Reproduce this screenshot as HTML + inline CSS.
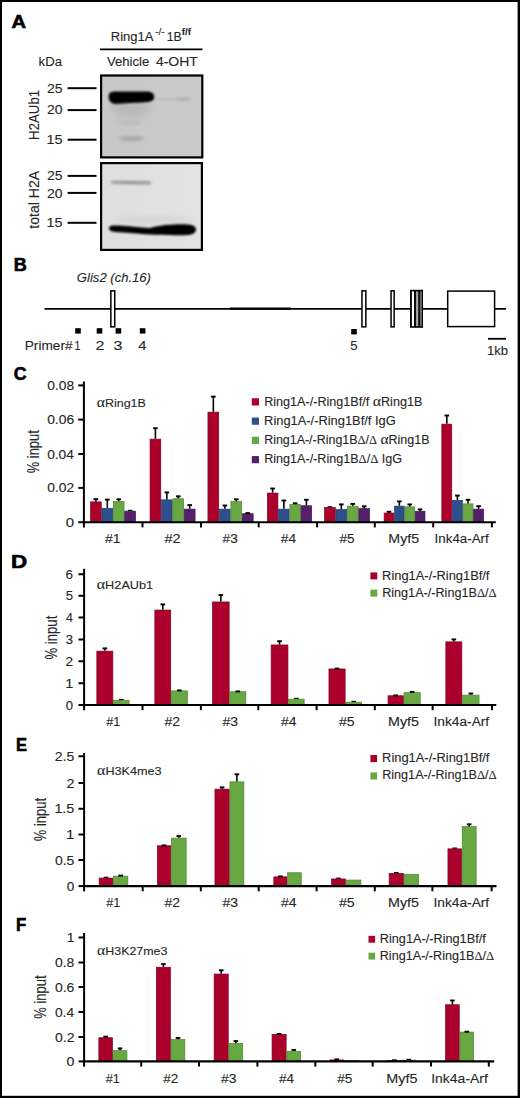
<!DOCTYPE html>
<html><head><meta charset="utf-8"><style>
html,body{margin:0;padding:0;background:#fff;}
svg{display:block;}
text{font-family:"Liberation Sans", sans-serif;}
</style></head><body>
<svg width="520" height="1098" viewBox="0 0 520 1098">
<rect x="0.00" y="0.00" width="520.00" height="1098.00" fill="#000" />
<rect x="2.00" y="2.00" width="515.60" height="1093.80" fill="#fff" />
<text x="11.52" y="28" font-size="17.5" fill="#000" stroke="#000" stroke-width="0.6" textLength="14.51" lengthAdjust="spacingAndGlyphs"><tspan font-weight="bold">A</tspan></text>
<text x="13.81" y="271" font-size="17.5" fill="#000" stroke="#000" stroke-width="0.6" textLength="13.00" lengthAdjust="spacingAndGlyphs"><tspan font-weight="bold">B</tspan></text>
<text x="13.67" y="380.2" font-size="17.5" fill="#000" stroke="#000" stroke-width="0.6" textLength="12.81" lengthAdjust="spacingAndGlyphs"><tspan font-weight="bold">C</tspan></text>
<text x="11.02" y="568" font-size="17.5" fill="#000" stroke="#000" stroke-width="0.6" textLength="16.15" lengthAdjust="spacingAndGlyphs"><tspan font-weight="bold">D</tspan></text>
<text x="15.91" y="751.25" font-size="17.5" fill="#000" stroke="#000" stroke-width="0.6" textLength="10.98" lengthAdjust="spacingAndGlyphs"><tspan font-weight="bold">E</tspan></text>
<text x="15.90" y="931.25" font-size="17.5" fill="#000" stroke="#000" stroke-width="0.6" textLength="10.20" lengthAdjust="spacingAndGlyphs"><tspan font-weight="bold">F</tspan></text>
<text x="110.84" y="40.6" font-size="12" fill="#262626" stroke="#262626" stroke-width="0.1" textLength="42.59" lengthAdjust="spacingAndGlyphs"><tspan>Ring1A</tspan></text>
<text x="155.15" y="35.4" font-size="9.5" fill="#262626" stroke="#262626" stroke-width="0.1" textLength="9.59" lengthAdjust="spacingAndGlyphs"><tspan>-/-</tspan></text>
<text x="166.77" y="40.6" font-size="12" fill="#262626" stroke="#262626" stroke-width="0.1" textLength="14.97" lengthAdjust="spacingAndGlyphs"><tspan>1B</tspan></text>
<text x="181.84" y="35.4" font-size="8.5" fill="#262626" stroke="#262626" stroke-width="0.1" textLength="9.04" lengthAdjust="spacingAndGlyphs"><tspan font-weight="bold">f/f</tspan></text>
<line x1="100.00" y1="49.30" x2="202.50" y2="49.30" stroke="#000" stroke-width="1.7"/>
<text x="106.95" y="66" font-size="12.5" fill="#262626" stroke="#262626" stroke-width="0.1" textLength="42.39" lengthAdjust="spacingAndGlyphs"><tspan>Vehicle</tspan></text>
<text x="155.94" y="66" font-size="12.5" fill="#262626" stroke="#262626" stroke-width="0.1" textLength="41.88" lengthAdjust="spacingAndGlyphs"><tspan>4-OHT</tspan></text>
<text x="38.62" y="66" font-size="12.5" fill="#262626" stroke="#262626" stroke-width="0.1" textLength="23.37" lengthAdjust="spacingAndGlyphs"><tspan>kDa</tspan></text>
<text x="47.00" y="92.8" font-size="12.3" fill="#262626" stroke="#262626" stroke-width="0.1" textLength="15.58" lengthAdjust="spacingAndGlyphs"><tspan>25</tspan></text>
<line x1="67.60" y1="88.20" x2="96.50" y2="88.20" stroke="#000" stroke-width="2"/>
<text x="47.00" y="114" font-size="12.3" fill="#262626" stroke="#262626" stroke-width="0.1" textLength="15.53" lengthAdjust="spacingAndGlyphs"><tspan>20</tspan></text>
<line x1="67.60" y1="110.10" x2="96.50" y2="110.10" stroke="#000" stroke-width="2"/>
<text x="46.61" y="143.5" font-size="12.3" fill="#262626" stroke="#262626" stroke-width="0.1" textLength="15.99" lengthAdjust="spacingAndGlyphs"><tspan>15</tspan></text>
<line x1="67.60" y1="139.70" x2="96.50" y2="139.70" stroke="#000" stroke-width="2"/>
<text x="47.00" y="179.9" font-size="12.3" fill="#262626" stroke="#262626" stroke-width="0.1" textLength="15.58" lengthAdjust="spacingAndGlyphs"><tspan>25</tspan></text>
<line x1="67.60" y1="175.90" x2="96.50" y2="175.90" stroke="#000" stroke-width="2"/>
<text x="47.00" y="197.7" font-size="12.3" fill="#262626" stroke="#262626" stroke-width="0.1" textLength="15.53" lengthAdjust="spacingAndGlyphs"><tspan>20</tspan></text>
<line x1="67.60" y1="192.90" x2="96.50" y2="192.90" stroke="#000" stroke-width="2"/>
<text x="46.61" y="227" font-size="12.3" fill="#262626" stroke="#262626" stroke-width="0.1" textLength="15.99" lengthAdjust="spacingAndGlyphs"><tspan>15</tspan></text>
<line x1="67.60" y1="222.80" x2="96.50" y2="222.80" stroke="#000" stroke-width="2"/>
<text transform="translate(38.70,0) rotate(-90)" x="-139.89" y="0" font-size="14" fill="#262626" stroke="#262626" stroke-width="0.1" textLength="50.02" lengthAdjust="spacingAndGlyphs"><tspan>H2AUb1</tspan></text>
<text transform="translate(38.50,0) rotate(-90)" x="-228.71" y="0" font-size="14" fill="#262626" stroke="#262626" stroke-width="0.1" textLength="57.94" lengthAdjust="spacingAndGlyphs"><tspan>total H2A</tspan></text>
<defs>
<filter id="b0" x="-50%" y="-50%" width="200%" height="200%"><feGaussianBlur stdDeviation="0.9"/></filter>
<filter id="b3" x="-50%" y="-50%" width="200%" height="200%"><feGaussianBlur stdDeviation="3.2"/></filter>
<filter id="b1" x="-50%" y="-50%" width="200%" height="200%"><feGaussianBlur stdDeviation="1.6"/></filter>
<filter id="b2" x="-50%" y="-50%" width="200%" height="200%"><feGaussianBlur stdDeviation="2.5"/></filter>
<linearGradient id="g1" x1="0" y1="0" x2="1" y2="0"><stop offset="0" stop-color="#c8c8c8"/><stop offset="1" stop-color="#cacaca"/></linearGradient>
<linearGradient id="g2" x1="0" y1="0" x2="1" y2="0"><stop offset="0" stop-color="#dfdfdf"/><stop offset="1" stop-color="#e3e3e3"/></linearGradient>
</defs>
<rect x="100.00" y="74.40" width="103.40" height="84.10" fill="#000" />
<rect x="102.20" y="76.60" width="99.00" height="79.70" fill="url(#g1)" />
<g filter="url(#b3)"><ellipse cx="131" cy="108" rx="20" ry="6" fill="#b8b8b8"/><ellipse cx="130" cy="118" rx="15" ry="5" fill="#c0c0c0"/></g>
<g filter="url(#b1)">
<ellipse cx="131" cy="123" rx="11" ry="1.3" fill="#b8b8b8"/>
<ellipse cx="131.5" cy="138.6" rx="12.5" ry="2.6" fill="#a8a8a8"/>
<path d="M155,98.6 L176,98.8 C185,98 191,98.5 192,99.3 C191,100.5 185,100.8 176,100.2 L155,99.4 Z" fill="#b0b0b0"/>
<ellipse cx="184" cy="99.4" rx="7" ry="1.2" fill="#a8a8a8"/>
</g>
<g filter="url(#b0)">
<path d="M108.6,96.5 C108.6,92.8 111,91.6 116,91.6 L147,91.6 C152,91.6 154.2,94 154.2,97 C154.2,100.3 151.5,101.8 146,102.3 C135,102.9 125,103.4 116,103.9 C111,104 108.6,101 108.6,96.5 Z" fill="#000"/>
</g>
<rect x="100.00" y="162.00" width="103.00" height="89.00" fill="#000" />
<rect x="102.20" y="164.20" width="98.60" height="84.60" fill="url(#g2)" />
<g filter="url(#b2)"><ellipse cx="152" cy="220" rx="40" ry="4" fill="#d6d6d6"/></g>
<g filter="url(#b1)">
<path d="M112,181 C125,180.8 140,181 150,181.5 C151.5,182 151.5,184 150,184.3 C140,184.5 125,184 112,183.5 C110.5,183 110.5,181.5 112,181 Z" fill="#8a8a8a"/>
</g>
<g filter="url(#b0)">
<path d="M109,228 C109,225.5 112,225.3 118,225.5 C130,226 140,227.3 150,228.0 C160,225 175,224 188,224.4 C194,224.8 196,227 196,229.5 C196,232 194,234.6 188,235 C175,235.5 160,235 150,234.6 C140,233.8 125,232.2 115,231.9 C111,231.7 109,230.5 109,228 Z" fill="#000"/>
</g>
<text x="76.86" y="282.2" font-size="13.5" fill="#262626" stroke="#262626" stroke-width="0.1" textLength="74.12" lengthAdjust="spacingAndGlyphs"><tspan font-style="italic">Glis2 (ch.16)</tspan></text>
<line x1="44.50" y1="308.80" x2="506.10" y2="308.80" stroke="#000" stroke-width="1.8"/>
<line x1="230.00" y1="308.65" x2="291.00" y2="308.65" stroke="#000" stroke-width="2.3"/>
<rect x="110.85" y="290.85" width="3.90" height="36.00" fill="#fff" stroke="#000" stroke-width="1.5"/>
<rect x="361.95" y="290.85" width="3.90" height="36.00" fill="#fff" stroke="#000" stroke-width="1.5"/>
<rect x="391.05" y="290.85" width="3.10" height="36.00" fill="#fff" stroke="#000" stroke-width="1.5"/>
<rect x="410.05" y="289.80" width="12.95" height="38.00" fill="#000" />
<rect x="411.90" y="291.40" width="2.10" height="34.80" fill="#fff" />
<rect x="415.90" y="291.40" width="2.40" height="34.80" fill="#a0a0a0" />
<rect x="419.90" y="291.40" width="2.00" height="34.80" fill="#6a6a6a" />
<rect x="447.70" y="291.10" width="46.90" height="35.50" fill="#fff" stroke="#000" stroke-width="1.5"/>
<rect x="75.20" y="328.20" width="5.60" height="5.40" fill="#000" />
<rect x="96.70" y="328.20" width="5.60" height="5.40" fill="#000" />
<rect x="115.60" y="328.20" width="5.60" height="5.40" fill="#000" />
<rect x="139.80" y="328.20" width="5.60" height="5.40" fill="#000" />
<rect x="351.20" y="329.00" width="5.60" height="5.40" fill="#000" />
<text x="24.78" y="349.8" font-size="12.5" fill="#262626" stroke="#262626" stroke-width="0.1" textLength="47.78" lengthAdjust="spacingAndGlyphs"><tspan>Primer#</tspan></text>
<text x="74.39" y="349.8" font-size="12.5" fill="#262626" stroke="#262626" stroke-width="0.1" textLength="5.92" lengthAdjust="spacingAndGlyphs"><tspan>1</tspan></text>
<text x="95.40" y="349.8" font-size="12.5" fill="#262626" stroke="#262626" stroke-width="0.1" textLength="8.90" lengthAdjust="spacingAndGlyphs"><tspan>2</tspan></text>
<text x="113.59" y="349.8" font-size="12.5" fill="#262626" stroke="#262626" stroke-width="0.1" textLength="8.90" lengthAdjust="spacingAndGlyphs"><tspan>3</tspan></text>
<text x="138.17" y="349.8" font-size="12.5" fill="#262626" stroke="#262626" stroke-width="0.1" textLength="8.26" lengthAdjust="spacingAndGlyphs"><tspan>4</tspan></text>
<text x="350.28" y="349.8" font-size="12.5" fill="#262626" stroke="#262626" stroke-width="0.1" textLength="7.26" lengthAdjust="spacingAndGlyphs"><tspan>5</tspan></text>
<line x1="488.00" y1="338.80" x2="506.10" y2="338.80" stroke="#000" stroke-width="1.8"/>
<text x="487.01" y="354.7" font-size="12.5" fill="#262626" stroke="#262626" stroke-width="0.1" textLength="21.03" lengthAdjust="spacingAndGlyphs"><tspan>1kb</tspan></text>
<rect x="90.55" y="501.85" width="10.70" height="20.35" fill="#ab002c" stroke="#80001f" stroke-width="0.7"/>
<line x1="95.90" y1="498.80" x2="95.90" y2="501.50" stroke="#000" stroke-width="1.6"/>
<line x1="93.60" y1="499.20" x2="98.20" y2="499.20" stroke="#000" stroke-width="1.9"/>
<rect x="101.95" y="508.25" width="10.70" height="13.95" fill="#2f4f8c" stroke="#22396a" stroke-width="0.7"/>
<line x1="107.30" y1="499.20" x2="107.30" y2="507.90" stroke="#000" stroke-width="1.6"/>
<line x1="105.00" y1="499.60" x2="109.60" y2="499.60" stroke="#000" stroke-width="1.9"/>
<rect x="113.35" y="501.55" width="10.70" height="20.65" fill="#68a843" stroke="#4f8532" stroke-width="0.7"/>
<line x1="118.70" y1="498.90" x2="118.70" y2="501.20" stroke="#000" stroke-width="1.6"/>
<line x1="116.40" y1="499.30" x2="121.00" y2="499.30" stroke="#000" stroke-width="1.9"/>
<rect x="124.75" y="511.15" width="10.70" height="11.05" fill="#561f6b" stroke="#3e1350" stroke-width="0.7"/>
<line x1="127.80" y1="510.40" x2="132.40" y2="510.40" stroke="#000" stroke-width="1.2"/>
<rect x="150.05" y="439.15" width="10.73" height="83.05" fill="#ab002c" stroke="#80001f" stroke-width="0.7"/>
<line x1="155.41" y1="427.80" x2="155.41" y2="438.80" stroke="#000" stroke-width="1.6"/>
<line x1="153.11" y1="428.20" x2="157.71" y2="428.20" stroke="#000" stroke-width="1.9"/>
<rect x="161.47" y="499.85" width="10.73" height="22.35" fill="#2f4f8c" stroke="#22396a" stroke-width="0.7"/>
<line x1="166.84" y1="492.00" x2="166.84" y2="499.50" stroke="#000" stroke-width="1.6"/>
<line x1="164.54" y1="492.40" x2="169.14" y2="492.40" stroke="#000" stroke-width="1.9"/>
<rect x="172.90" y="498.75" width="10.72" height="23.45" fill="#68a843" stroke="#4f8532" stroke-width="0.7"/>
<line x1="178.26" y1="495.90" x2="178.26" y2="498.40" stroke="#000" stroke-width="1.6"/>
<line x1="175.96" y1="496.30" x2="180.56" y2="496.30" stroke="#000" stroke-width="1.9"/>
<rect x="184.32" y="509.15" width="10.73" height="13.05" fill="#561f6b" stroke="#3e1350" stroke-width="0.7"/>
<line x1="189.69" y1="504.70" x2="189.69" y2="508.80" stroke="#000" stroke-width="1.6"/>
<line x1="187.39" y1="505.10" x2="191.99" y2="505.10" stroke="#000" stroke-width="1.9"/>
<rect x="207.95" y="412.15" width="10.77" height="110.05" fill="#ab002c" stroke="#80001f" stroke-width="0.7"/>
<line x1="213.34" y1="396.20" x2="213.34" y2="411.80" stroke="#000" stroke-width="1.6"/>
<line x1="211.04" y1="396.60" x2="215.64" y2="396.60" stroke="#000" stroke-width="1.9"/>
<rect x="219.42" y="509.15" width="10.78" height="13.05" fill="#2f4f8c" stroke="#22396a" stroke-width="0.7"/>
<line x1="224.81" y1="505.10" x2="224.81" y2="508.80" stroke="#000" stroke-width="1.6"/>
<line x1="222.51" y1="505.50" x2="227.11" y2="505.50" stroke="#000" stroke-width="1.9"/>
<rect x="230.90" y="501.55" width="10.77" height="20.65" fill="#68a843" stroke="#4f8532" stroke-width="0.7"/>
<line x1="236.29" y1="498.90" x2="236.29" y2="501.20" stroke="#000" stroke-width="1.6"/>
<line x1="233.99" y1="499.30" x2="238.59" y2="499.30" stroke="#000" stroke-width="1.9"/>
<rect x="242.38" y="513.75" width="10.77" height="8.45" fill="#561f6b" stroke="#3e1350" stroke-width="0.7"/>
<line x1="247.76" y1="512.70" x2="247.76" y2="513.40" stroke="#000" stroke-width="1.6"/>
<line x1="245.46" y1="513.10" x2="250.06" y2="513.10" stroke="#000" stroke-width="1.9"/>
<rect x="267.35" y="493.05" width="10.55" height="29.15" fill="#ab002c" stroke="#80001f" stroke-width="0.7"/>
<line x1="272.62" y1="488.10" x2="272.62" y2="492.70" stroke="#000" stroke-width="1.6"/>
<line x1="270.32" y1="488.50" x2="274.93" y2="488.50" stroke="#000" stroke-width="1.9"/>
<rect x="278.60" y="509.15" width="10.55" height="13.05" fill="#2f4f8c" stroke="#22396a" stroke-width="0.7"/>
<line x1="283.88" y1="500.10" x2="283.88" y2="508.80" stroke="#000" stroke-width="1.6"/>
<line x1="281.57" y1="500.50" x2="286.18" y2="500.50" stroke="#000" stroke-width="1.9"/>
<rect x="289.85" y="504.55" width="10.55" height="17.65" fill="#68a843" stroke="#4f8532" stroke-width="0.7"/>
<line x1="295.12" y1="502.90" x2="295.12" y2="504.20" stroke="#000" stroke-width="1.6"/>
<line x1="292.82" y1="503.30" x2="297.43" y2="503.30" stroke="#000" stroke-width="1.9"/>
<rect x="301.10" y="505.75" width="10.55" height="16.45" fill="#561f6b" stroke="#3e1350" stroke-width="0.7"/>
<line x1="306.38" y1="499.40" x2="306.38" y2="505.40" stroke="#000" stroke-width="1.6"/>
<line x1="304.07" y1="499.80" x2="308.68" y2="499.80" stroke="#000" stroke-width="1.9"/>
<rect x="324.55" y="507.55" width="10.73" height="14.65" fill="#ab002c" stroke="#80001f" stroke-width="0.7"/>
<line x1="327.61" y1="506.80" x2="332.21" y2="506.80" stroke="#000" stroke-width="1.2"/>
<rect x="335.98" y="509.65" width="10.72" height="12.55" fill="#2f4f8c" stroke="#22396a" stroke-width="0.7"/>
<line x1="341.34" y1="504.00" x2="341.34" y2="509.30" stroke="#000" stroke-width="1.6"/>
<line x1="339.04" y1="504.40" x2="343.64" y2="504.40" stroke="#000" stroke-width="1.9"/>
<rect x="347.40" y="506.15" width="10.73" height="16.05" fill="#68a843" stroke="#4f8532" stroke-width="0.7"/>
<line x1="352.76" y1="503.50" x2="352.76" y2="505.80" stroke="#000" stroke-width="1.6"/>
<line x1="350.46" y1="503.90" x2="355.06" y2="503.90" stroke="#000" stroke-width="1.9"/>
<rect x="358.82" y="508.55" width="10.73" height="13.65" fill="#561f6b" stroke="#3e1350" stroke-width="0.7"/>
<line x1="364.19" y1="505.90" x2="364.19" y2="508.20" stroke="#000" stroke-width="1.6"/>
<line x1="361.89" y1="506.30" x2="366.49" y2="506.30" stroke="#000" stroke-width="1.9"/>
<rect x="384.15" y="513.05" width="9.68" height="9.15" fill="#ab002c" stroke="#80001f" stroke-width="0.7"/>
<line x1="388.99" y1="511.40" x2="388.99" y2="512.70" stroke="#000" stroke-width="1.6"/>
<line x1="386.69" y1="511.80" x2="391.29" y2="511.80" stroke="#000" stroke-width="1.9"/>
<rect x="394.53" y="506.15" width="9.68" height="16.05" fill="#2f4f8c" stroke="#22396a" stroke-width="0.7"/>
<line x1="399.36" y1="501.00" x2="399.36" y2="505.80" stroke="#000" stroke-width="1.6"/>
<line x1="397.06" y1="501.40" x2="401.66" y2="501.40" stroke="#000" stroke-width="1.9"/>
<rect x="404.90" y="506.85" width="9.68" height="15.35" fill="#68a843" stroke="#4f8532" stroke-width="0.7"/>
<line x1="409.74" y1="504.00" x2="409.74" y2="506.50" stroke="#000" stroke-width="1.6"/>
<line x1="407.44" y1="504.40" x2="412.04" y2="504.40" stroke="#000" stroke-width="1.9"/>
<rect x="415.28" y="511.25" width="9.68" height="10.95" fill="#561f6b" stroke="#3e1350" stroke-width="0.7"/>
<line x1="420.11" y1="509.00" x2="420.11" y2="510.90" stroke="#000" stroke-width="1.6"/>
<line x1="417.81" y1="509.40" x2="422.41" y2="509.40" stroke="#000" stroke-width="1.9"/>
<rect x="441.85" y="424.15" width="9.90" height="98.05" fill="#ab002c" stroke="#80001f" stroke-width="0.7"/>
<line x1="446.80" y1="415.10" x2="446.80" y2="423.80" stroke="#000" stroke-width="1.6"/>
<line x1="444.50" y1="415.50" x2="449.10" y2="415.50" stroke="#000" stroke-width="1.9"/>
<rect x="452.45" y="500.35" width="9.90" height="21.85" fill="#2f4f8c" stroke="#22396a" stroke-width="0.7"/>
<line x1="457.40" y1="495.20" x2="457.40" y2="500.00" stroke="#000" stroke-width="1.6"/>
<line x1="455.10" y1="495.60" x2="459.70" y2="495.60" stroke="#000" stroke-width="1.9"/>
<rect x="463.05" y="503.85" width="9.90" height="18.35" fill="#68a843" stroke="#4f8532" stroke-width="0.7"/>
<line x1="468.00" y1="499.40" x2="468.00" y2="503.50" stroke="#000" stroke-width="1.6"/>
<line x1="465.70" y1="499.80" x2="470.30" y2="499.80" stroke="#000" stroke-width="1.9"/>
<rect x="473.65" y="509.15" width="9.90" height="13.05" fill="#561f6b" stroke="#3e1350" stroke-width="0.7"/>
<line x1="478.60" y1="505.80" x2="478.60" y2="508.80" stroke="#000" stroke-width="1.6"/>
<line x1="476.30" y1="506.20" x2="480.90" y2="506.20" stroke="#000" stroke-width="1.9"/>
<line x1="83.90" y1="381.50" x2="83.90" y2="527.50" stroke="#000" stroke-width="2.0"/>
<line x1="82.90" y1="522.20" x2="495.80" y2="522.20" stroke="#000" stroke-width="2.1"/>
<line x1="78.30" y1="385.40" x2="83.90" y2="385.40" stroke="#000" stroke-width="2"/>
<line x1="78.30" y1="419.60" x2="83.90" y2="419.60" stroke="#000" stroke-width="2"/>
<line x1="78.30" y1="454.00" x2="83.90" y2="454.00" stroke="#000" stroke-width="2"/>
<line x1="78.30" y1="487.90" x2="83.90" y2="487.90" stroke="#000" stroke-width="2"/>
<line x1="78.30" y1="522.20" x2="83.90" y2="522.20" stroke="#000" stroke-width="2"/>
<line x1="142.50" y1="522.20" x2="142.50" y2="527.40" stroke="#000" stroke-width="2"/>
<line x1="201.00" y1="522.20" x2="201.00" y2="527.40" stroke="#000" stroke-width="2"/>
<line x1="258.70" y1="522.20" x2="258.70" y2="527.40" stroke="#000" stroke-width="2"/>
<line x1="317.10" y1="522.20" x2="317.10" y2="527.40" stroke="#000" stroke-width="2"/>
<line x1="374.80" y1="522.20" x2="374.80" y2="527.40" stroke="#000" stroke-width="2"/>
<line x1="433.20" y1="522.20" x2="433.20" y2="527.40" stroke="#000" stroke-width="2"/>
<line x1="491.90" y1="522.20" x2="491.90" y2="527.40" stroke="#000" stroke-width="2"/>
<text x="47.16" y="389.9" font-size="12.5" fill="#262626" stroke="#262626" stroke-width="0.1" textLength="26.94" lengthAdjust="spacingAndGlyphs"><tspan>0.08</tspan></text>
<text x="47.16" y="424.1" font-size="12.5" fill="#262626" stroke="#262626" stroke-width="0.1" textLength="26.94" lengthAdjust="spacingAndGlyphs"><tspan>0.06</tspan></text>
<text x="47.16" y="458.5" font-size="12.5" fill="#262626" stroke="#262626" stroke-width="0.1" textLength="26.74" lengthAdjust="spacingAndGlyphs"><tspan>0.04</tspan></text>
<text x="47.16" y="492.4" font-size="12.5" fill="#262626" stroke="#262626" stroke-width="0.1" textLength="27.04" lengthAdjust="spacingAndGlyphs"><tspan>0.02</tspan></text>
<text x="65.71" y="526.7" font-size="12.5" fill="#262626" stroke="#262626" stroke-width="0.1" textLength="8.36" lengthAdjust="spacingAndGlyphs"><tspan>0</tspan></text>
<text x="105.04" y="542.7" font-size="12.3" fill="#262626" stroke="#262626" stroke-width="0.1" textLength="15.64" lengthAdjust="spacingAndGlyphs"><tspan>#1</tspan></text>
<text x="164.44" y="542.7" font-size="12.3" fill="#262626" stroke="#262626" stroke-width="0.1" textLength="16.09" lengthAdjust="spacingAndGlyphs"><tspan>#2</tspan></text>
<text x="222.55" y="542.7" font-size="12.3" fill="#262626" stroke="#262626" stroke-width="0.1" textLength="15.25" lengthAdjust="spacingAndGlyphs"><tspan>#3</tspan></text>
<text x="280.74" y="542.7" font-size="12.3" fill="#262626" stroke="#262626" stroke-width="0.1" textLength="15.36" lengthAdjust="spacingAndGlyphs"><tspan>#4</tspan></text>
<text x="339.45" y="542.7" font-size="12.3" fill="#262626" stroke="#262626" stroke-width="0.1" textLength="15.12" lengthAdjust="spacingAndGlyphs"><tspan>#5</tspan></text>
<text x="388.34" y="542.7" font-size="12.3" fill="#262626" stroke="#262626" stroke-width="0.1" textLength="30.75" lengthAdjust="spacingAndGlyphs"><tspan>Myf5</tspan></text>
<text x="434.57" y="542.7" font-size="12.3" fill="#262626" stroke="#262626" stroke-width="0.1" textLength="54.20" lengthAdjust="spacingAndGlyphs"><tspan>Ink4a-Arf</tspan></text>
<text x="96.81" y="407.2" font-size="11" fill="#262626" stroke="#262626" stroke-width="0.1" textLength="49.03" lengthAdjust="spacingAndGlyphs"><tspan font-family="Liberation Serif" font-size="1.250em">α</tspan><tspan>Ring1B</tspan></text>
<text transform="translate(38.75,0) rotate(-90)" x="-473.35" y="0" font-size="16" fill="#262626" stroke="#262626" stroke-width="0.1" textLength="43.24" lengthAdjust="spacingAndGlyphs"><tspan>% input</tspan></text>
<rect x="251.80" y="398.30" width="7.20" height="7.20" fill="#ab002c" />
<text x="264.17" y="405.8" font-size="12.3" fill="#262626" stroke="#262626" stroke-width="0.1" textLength="158.18" lengthAdjust="spacingAndGlyphs"><tspan>Ring1A-/-Ring1Bf/f </tspan><tspan font-family="Liberation Serif" font-size="1.250em">α</tspan><tspan>Ring1B</tspan></text>
<rect x="251.80" y="417.55" width="7.20" height="7.20" fill="#2f4f8c" />
<text x="264.14" y="424.77" font-size="12.3" fill="#262626" stroke="#262626" stroke-width="0.1" textLength="131.60" lengthAdjust="spacingAndGlyphs"><tspan>Ring1A-/-Ring1Bf/f IgG</tspan></text>
<rect x="251.80" y="436.80" width="7.20" height="7.20" fill="#68a843" />
<text x="264.18" y="443.74" font-size="12.3" fill="#262626" stroke="#262626" stroke-width="0.1" textLength="165.27" lengthAdjust="spacingAndGlyphs"><tspan>Ring1A-/-Ring1B</tspan><tspan font-family="Liberation Serif">Δ</tspan><tspan>/</tspan><tspan font-family="Liberation Serif">Δ</tspan><tspan> </tspan><tspan font-family="Liberation Serif" font-size="1.250em">α</tspan><tspan>Ring1B</tspan></text>
<rect x="251.80" y="456.05" width="7.20" height="7.20" fill="#561f6b" />
<text x="264.17" y="462.71000000000004" font-size="12.3" fill="#262626" stroke="#262626" stroke-width="0.1" textLength="137.97" lengthAdjust="spacingAndGlyphs"><tspan>Ring1A-/-Ring1B</tspan><tspan font-family="Liberation Serif">Δ</tspan><tspan>/</tspan><tspan font-family="Liberation Serif">Δ</tspan><tspan> IgG</tspan></text>
<rect x="96.85" y="651.15" width="16.00" height="53.85" fill="#ab002c" stroke="#80001f" stroke-width="0.7"/>
<line x1="104.85" y1="648.00" x2="104.85" y2="650.80" stroke="#000" stroke-width="1.6"/>
<line x1="102.55" y1="648.40" x2="107.15" y2="648.40" stroke="#000" stroke-width="1.9"/>
<rect x="113.55" y="700.25" width="15.60" height="4.75" fill="#68a843" stroke="#4f8532" stroke-width="0.7"/>
<line x1="119.05" y1="699.50" x2="123.65" y2="699.50" stroke="#000" stroke-width="1.2"/>
<rect x="154.85" y="610.05" width="15.90" height="94.95" fill="#ab002c" stroke="#80001f" stroke-width="0.7"/>
<line x1="162.80" y1="604.00" x2="162.80" y2="609.70" stroke="#000" stroke-width="1.6"/>
<line x1="160.50" y1="604.40" x2="165.10" y2="604.40" stroke="#000" stroke-width="1.9"/>
<rect x="171.45" y="690.85" width="15.90" height="14.15" fill="#68a843" stroke="#4f8532" stroke-width="0.7"/>
<line x1="179.40" y1="690.00" x2="179.40" y2="690.50" stroke="#000" stroke-width="1.6"/>
<line x1="177.10" y1="690.40" x2="181.70" y2="690.40" stroke="#000" stroke-width="1.9"/>
<rect x="212.55" y="601.95" width="16.60" height="103.05" fill="#ab002c" stroke="#80001f" stroke-width="0.7"/>
<line x1="220.85" y1="594.70" x2="220.85" y2="601.60" stroke="#000" stroke-width="1.6"/>
<line x1="218.55" y1="595.10" x2="223.15" y2="595.10" stroke="#000" stroke-width="1.9"/>
<rect x="229.85" y="691.75" width="16.00" height="13.25" fill="#68a843" stroke="#4f8532" stroke-width="0.7"/>
<line x1="237.85" y1="691.00" x2="237.85" y2="691.40" stroke="#000" stroke-width="1.6"/>
<line x1="235.55" y1="691.40" x2="240.15" y2="691.40" stroke="#000" stroke-width="1.9"/>
<rect x="271.15" y="644.95" width="16.80" height="60.05" fill="#ab002c" stroke="#80001f" stroke-width="0.7"/>
<line x1="279.55" y1="640.80" x2="279.55" y2="644.60" stroke="#000" stroke-width="1.6"/>
<line x1="277.25" y1="641.20" x2="281.85" y2="641.20" stroke="#000" stroke-width="1.9"/>
<rect x="288.65" y="699.15" width="15.50" height="5.85" fill="#68a843" stroke="#4f8532" stroke-width="0.7"/>
<line x1="294.10" y1="698.40" x2="298.70" y2="698.40" stroke="#000" stroke-width="1.2"/>
<rect x="328.95" y="668.95" width="16.20" height="36.05" fill="#ab002c" stroke="#80001f" stroke-width="0.7"/>
<line x1="337.05" y1="668.20" x2="337.05" y2="668.60" stroke="#000" stroke-width="1.6"/>
<line x1="334.75" y1="668.60" x2="339.35" y2="668.60" stroke="#000" stroke-width="1.9"/>
<rect x="345.85" y="702.15" width="15.80" height="2.85" fill="#68a843" stroke="#4f8532" stroke-width="0.7"/>
<line x1="351.45" y1="701.40" x2="356.05" y2="701.40" stroke="#000" stroke-width="1.2"/>
<rect x="388.05" y="695.75" width="15.30" height="9.25" fill="#ab002c" stroke="#80001f" stroke-width="0.7"/>
<line x1="395.70" y1="695.00" x2="395.70" y2="695.40" stroke="#000" stroke-width="1.6"/>
<line x1="393.40" y1="695.40" x2="398.00" y2="695.40" stroke="#000" stroke-width="1.9"/>
<rect x="404.05" y="692.65" width="16.20" height="12.35" fill="#68a843" stroke="#4f8532" stroke-width="0.7"/>
<line x1="412.15" y1="691.50" x2="412.15" y2="692.30" stroke="#000" stroke-width="1.6"/>
<line x1="409.85" y1="691.90" x2="414.45" y2="691.90" stroke="#000" stroke-width="1.9"/>
<rect x="445.85" y="641.85" width="16.00" height="63.15" fill="#ab002c" stroke="#80001f" stroke-width="0.7"/>
<line x1="453.85" y1="639.00" x2="453.85" y2="641.50" stroke="#000" stroke-width="1.6"/>
<line x1="451.55" y1="639.40" x2="456.15" y2="639.40" stroke="#000" stroke-width="1.9"/>
<rect x="462.55" y="695.15" width="16.50" height="9.85" fill="#68a843" stroke="#4f8532" stroke-width="0.7"/>
<line x1="470.80" y1="693.10" x2="470.80" y2="694.80" stroke="#000" stroke-width="1.6"/>
<line x1="468.50" y1="693.50" x2="473.10" y2="693.50" stroke="#000" stroke-width="1.9"/>
<line x1="84.10" y1="568.75" x2="84.10" y2="710.30" stroke="#000" stroke-width="2.0"/>
<line x1="83.10" y1="705.00" x2="496.30" y2="705.00" stroke="#000" stroke-width="2.1"/>
<line x1="78.50" y1="574.25" x2="84.10" y2="574.25" stroke="#000" stroke-width="2"/>
<line x1="78.50" y1="595.75" x2="84.10" y2="595.75" stroke="#000" stroke-width="2"/>
<line x1="78.50" y1="617.50" x2="84.10" y2="617.50" stroke="#000" stroke-width="2"/>
<line x1="78.50" y1="639.50" x2="84.10" y2="639.50" stroke="#000" stroke-width="2"/>
<line x1="78.50" y1="661.25" x2="84.10" y2="661.25" stroke="#000" stroke-width="2"/>
<line x1="78.50" y1="683.25" x2="84.10" y2="683.25" stroke="#000" stroke-width="2"/>
<line x1="78.50" y1="705.00" x2="84.10" y2="705.00" stroke="#000" stroke-width="2"/>
<line x1="142.50" y1="705.00" x2="142.50" y2="710.20" stroke="#000" stroke-width="2"/>
<line x1="200.90" y1="705.00" x2="200.90" y2="710.20" stroke="#000" stroke-width="2"/>
<line x1="258.30" y1="705.00" x2="258.30" y2="710.20" stroke="#000" stroke-width="2"/>
<line x1="316.60" y1="705.00" x2="316.60" y2="710.20" stroke="#000" stroke-width="2"/>
<line x1="374.80" y1="705.00" x2="374.80" y2="710.20" stroke="#000" stroke-width="2"/>
<line x1="432.60" y1="705.00" x2="432.60" y2="710.20" stroke="#000" stroke-width="2"/>
<line x1="492.00" y1="705.00" x2="492.00" y2="710.20" stroke="#000" stroke-width="2"/>
<text x="65.58" y="578.75" font-size="12.5" fill="#262626" stroke="#262626" stroke-width="0.1" textLength="7.51" lengthAdjust="spacingAndGlyphs"><tspan>6</tspan></text>
<text x="65.72" y="600.25" font-size="12.5" fill="#262626" stroke="#262626" stroke-width="0.1" textLength="7.32" lengthAdjust="spacingAndGlyphs"><tspan>5</tspan></text>
<text x="65.98" y="622.0" font-size="12.5" fill="#262626" stroke="#262626" stroke-width="0.1" textLength="6.88" lengthAdjust="spacingAndGlyphs"><tspan>4</tspan></text>
<text x="65.75" y="644.0" font-size="12.5" fill="#262626" stroke="#262626" stroke-width="0.1" textLength="7.32" lengthAdjust="spacingAndGlyphs"><tspan>3</tspan></text>
<text x="65.56" y="665.75" font-size="12.5" fill="#262626" stroke="#262626" stroke-width="0.1" textLength="7.62" lengthAdjust="spacingAndGlyphs"><tspan>2</tspan></text>
<text x="65.15" y="687.75" font-size="12.5" fill="#262626" stroke="#262626" stroke-width="0.1" textLength="8.05" lengthAdjust="spacingAndGlyphs"><tspan>1</tspan></text>
<text x="65.74" y="709.5" font-size="12.5" fill="#262626" stroke="#262626" stroke-width="0.1" textLength="7.26" lengthAdjust="spacingAndGlyphs"><tspan>0</tspan></text>
<text x="106.15" y="726.0" font-size="12.3" fill="#262626" stroke="#262626" stroke-width="0.1" textLength="14.06" lengthAdjust="spacingAndGlyphs"><tspan>#1</tspan></text>
<text x="164.44" y="726.0" font-size="12.3" fill="#262626" stroke="#262626" stroke-width="0.1" textLength="15.56" lengthAdjust="spacingAndGlyphs"><tspan>#2</tspan></text>
<text x="222.44" y="726.0" font-size="12.3" fill="#262626" stroke="#262626" stroke-width="0.1" textLength="15.67" lengthAdjust="spacingAndGlyphs"><tspan>#3</tspan></text>
<text x="280.94" y="726.0" font-size="12.3" fill="#262626" stroke="#262626" stroke-width="0.1" textLength="15.46" lengthAdjust="spacingAndGlyphs"><tspan>#4</tspan></text>
<text x="338.94" y="726.0" font-size="12.3" fill="#262626" stroke="#262626" stroke-width="0.1" textLength="15.64" lengthAdjust="spacingAndGlyphs"><tspan>#5</tspan></text>
<text x="388.02" y="726.0" font-size="12.3" fill="#262626" stroke="#262626" stroke-width="0.1" textLength="31.06" lengthAdjust="spacingAndGlyphs"><tspan>Myf5</tspan></text>
<text x="433.54" y="726.0" font-size="12.3" fill="#262626" stroke="#262626" stroke-width="0.1" textLength="55.64" lengthAdjust="spacingAndGlyphs"><tspan>Ink4a-Arf</tspan></text>
<text x="96.80" y="588.9" font-size="11.3" fill="#262626" stroke="#262626" stroke-width="0.1" textLength="56.40" lengthAdjust="spacingAndGlyphs"><tspan font-family="Liberation Serif" font-size="1.250em">α</tspan><tspan>H2AUb1</tspan></text>
<text transform="translate(57.00,0) rotate(-90)" x="-659.46" y="0" font-size="16" fill="#262626" stroke="#262626" stroke-width="0.1" textLength="43.74" lengthAdjust="spacingAndGlyphs"><tspan>% input</tspan></text>
<rect x="370.40" y="572.40" width="6.90" height="7.00" fill="#ab002c" />
<text x="382.14" y="579.6" font-size="12.3" fill="#262626" stroke="#262626" stroke-width="0.1" textLength="107.33" lengthAdjust="spacingAndGlyphs"><tspan>Ring1A-/-Ring1Bf/f</tspan></text>
<rect x="370.40" y="589.60" width="6.90" height="7.00" fill="#68a843" />
<text x="382.16" y="596.5" font-size="12.3" fill="#262626" stroke="#262626" stroke-width="0.1" textLength="114.51" lengthAdjust="spacingAndGlyphs"><tspan>Ring1A-/-Ring1B</tspan><tspan font-family="Liberation Serif">Δ</tspan><tspan>/</tspan><tspan font-family="Liberation Serif">Δ</tspan></text>
<rect x="99.15" y="878.05" width="13.70" height="8.05" fill="#ab002c" stroke="#80001f" stroke-width="0.7"/>
<line x1="103.70" y1="877.30" x2="108.30" y2="877.30" stroke="#000" stroke-width="1.2"/>
<rect x="113.55" y="876.15" width="14.30" height="9.95" fill="#68a843" stroke="#4f8532" stroke-width="0.7"/>
<line x1="120.70" y1="875.20" x2="120.70" y2="875.80" stroke="#000" stroke-width="1.6"/>
<line x1="118.40" y1="875.60" x2="123.00" y2="875.60" stroke="#000" stroke-width="1.9"/>
<rect x="157.35" y="845.75" width="13.40" height="40.35" fill="#ab002c" stroke="#80001f" stroke-width="0.7"/>
<line x1="164.05" y1="845.00" x2="164.05" y2="845.40" stroke="#000" stroke-width="1.6"/>
<line x1="161.75" y1="845.40" x2="166.35" y2="845.40" stroke="#000" stroke-width="1.9"/>
<rect x="171.45" y="838.15" width="14.70" height="47.95" fill="#68a843" stroke="#4f8532" stroke-width="0.7"/>
<line x1="178.80" y1="835.70" x2="178.80" y2="837.80" stroke="#000" stroke-width="1.6"/>
<line x1="176.50" y1="836.10" x2="181.10" y2="836.10" stroke="#000" stroke-width="1.9"/>
<rect x="214.95" y="789.15" width="14.30" height="96.95" fill="#ab002c" stroke="#80001f" stroke-width="0.7"/>
<line x1="222.10" y1="787.00" x2="222.10" y2="788.80" stroke="#000" stroke-width="1.6"/>
<line x1="219.80" y1="787.40" x2="224.40" y2="787.40" stroke="#000" stroke-width="1.9"/>
<rect x="229.95" y="781.85" width="13.90" height="104.25" fill="#68a843" stroke="#4f8532" stroke-width="0.7"/>
<line x1="236.90" y1="773.90" x2="236.90" y2="781.50" stroke="#000" stroke-width="1.6"/>
<line x1="234.60" y1="774.30" x2="239.20" y2="774.30" stroke="#000" stroke-width="1.9"/>
<rect x="273.85" y="876.85" width="13.10" height="9.25" fill="#ab002c" stroke="#80001f" stroke-width="0.7"/>
<line x1="280.40" y1="876.00" x2="280.40" y2="876.50" stroke="#000" stroke-width="1.6"/>
<line x1="278.10" y1="876.40" x2="282.70" y2="876.40" stroke="#000" stroke-width="1.9"/>
<rect x="287.65" y="872.75" width="13.60" height="13.35" fill="#68a843" stroke="#4f8532" stroke-width="0.7"/>
<rect x="331.55" y="878.95" width="13.90" height="7.15" fill="#ab002c" stroke="#80001f" stroke-width="0.7"/>
<line x1="336.20" y1="878.20" x2="340.80" y2="878.20" stroke="#000" stroke-width="1.2"/>
<rect x="346.15" y="880.05" width="14.70" height="6.05" fill="#68a843" stroke="#4f8532" stroke-width="0.7"/>
<rect x="389.15" y="873.35" width="14.30" height="12.75" fill="#ab002c" stroke="#80001f" stroke-width="0.7"/>
<line x1="394.00" y1="872.60" x2="398.60" y2="872.60" stroke="#000" stroke-width="1.2"/>
<rect x="404.15" y="874.25" width="14.30" height="11.85" fill="#68a843" stroke="#4f8532" stroke-width="0.7"/>
<rect x="447.95" y="848.85" width="13.60" height="37.25" fill="#ab002c" stroke="#80001f" stroke-width="0.7"/>
<line x1="452.45" y1="848.10" x2="457.05" y2="848.10" stroke="#000" stroke-width="1.2"/>
<rect x="462.25" y="826.55" width="13.90" height="59.55" fill="#68a843" stroke="#4f8532" stroke-width="0.7"/>
<line x1="469.20" y1="823.90" x2="469.20" y2="826.20" stroke="#000" stroke-width="1.6"/>
<line x1="466.90" y1="824.30" x2="471.50" y2="824.30" stroke="#000" stroke-width="1.9"/>
<line x1="84.10" y1="753.00" x2="84.10" y2="891.40" stroke="#000" stroke-width="2.0"/>
<line x1="83.10" y1="886.10" x2="496.50" y2="886.10" stroke="#000" stroke-width="2.1"/>
<line x1="78.50" y1="756.25" x2="84.10" y2="756.25" stroke="#000" stroke-width="2"/>
<line x1="78.50" y1="783.00" x2="84.10" y2="783.00" stroke="#000" stroke-width="2"/>
<line x1="78.50" y1="808.75" x2="84.10" y2="808.75" stroke="#000" stroke-width="2"/>
<line x1="78.50" y1="834.50" x2="84.10" y2="834.50" stroke="#000" stroke-width="2"/>
<line x1="78.50" y1="860.00" x2="84.10" y2="860.00" stroke="#000" stroke-width="2"/>
<line x1="78.50" y1="886.10" x2="84.10" y2="886.10" stroke="#000" stroke-width="2"/>
<line x1="142.70" y1="886.10" x2="142.70" y2="891.30" stroke="#000" stroke-width="2"/>
<line x1="200.80" y1="886.10" x2="200.80" y2="891.30" stroke="#000" stroke-width="2"/>
<line x1="258.70" y1="886.10" x2="258.70" y2="891.30" stroke="#000" stroke-width="2"/>
<line x1="316.60" y1="886.10" x2="316.60" y2="891.30" stroke="#000" stroke-width="2"/>
<line x1="374.80" y1="886.10" x2="374.80" y2="891.30" stroke="#000" stroke-width="2"/>
<line x1="432.40" y1="886.10" x2="432.40" y2="891.30" stroke="#000" stroke-width="2"/>
<line x1="491.60" y1="886.10" x2="491.60" y2="891.30" stroke="#000" stroke-width="2"/>
<text x="54.80" y="760.75" font-size="12.5" fill="#262626" stroke="#262626" stroke-width="0.1" textLength="19.53" lengthAdjust="spacingAndGlyphs"><tspan>2.5</tspan></text>
<text x="66.54" y="787.5" font-size="12.5" fill="#262626" stroke="#262626" stroke-width="0.1" textLength="7.93" lengthAdjust="spacingAndGlyphs"><tspan>2</tspan></text>
<text x="54.41" y="813.25" font-size="12.5" fill="#262626" stroke="#262626" stroke-width="0.1" textLength="19.93" lengthAdjust="spacingAndGlyphs"><tspan>1.5</tspan></text>
<text x="66.11" y="839.0" font-size="12.5" fill="#262626" stroke="#262626" stroke-width="0.1" textLength="8.37" lengthAdjust="spacingAndGlyphs"><tspan>1</tspan></text>
<text x="54.96" y="864.5" font-size="12.5" fill="#262626" stroke="#262626" stroke-width="0.1" textLength="19.37" lengthAdjust="spacingAndGlyphs"><tspan>0.5</tspan></text>
<text x="66.72" y="890.6" font-size="12.5" fill="#262626" stroke="#262626" stroke-width="0.1" textLength="7.55" lengthAdjust="spacingAndGlyphs"><tspan>0</tspan></text>
<text x="106.15" y="907.2" font-size="12.3" fill="#262626" stroke="#262626" stroke-width="0.1" textLength="14.06" lengthAdjust="spacingAndGlyphs"><tspan>#1</tspan></text>
<text x="164.44" y="907.2" font-size="12.3" fill="#262626" stroke="#262626" stroke-width="0.1" textLength="15.56" lengthAdjust="spacingAndGlyphs"><tspan>#2</tspan></text>
<text x="222.44" y="907.2" font-size="12.3" fill="#262626" stroke="#262626" stroke-width="0.1" textLength="15.67" lengthAdjust="spacingAndGlyphs"><tspan>#3</tspan></text>
<text x="280.94" y="907.2" font-size="12.3" fill="#262626" stroke="#262626" stroke-width="0.1" textLength="15.46" lengthAdjust="spacingAndGlyphs"><tspan>#4</tspan></text>
<text x="338.94" y="907.2" font-size="12.3" fill="#262626" stroke="#262626" stroke-width="0.1" textLength="15.64" lengthAdjust="spacingAndGlyphs"><tspan>#5</tspan></text>
<text x="388.02" y="907.2" font-size="12.3" fill="#262626" stroke="#262626" stroke-width="0.1" textLength="31.06" lengthAdjust="spacingAndGlyphs"><tspan>Myf5</tspan></text>
<text x="433.54" y="907.2" font-size="12.3" fill="#262626" stroke="#262626" stroke-width="0.1" textLength="55.64" lengthAdjust="spacingAndGlyphs"><tspan>Ink4a-Arf</tspan></text>
<text x="97.11" y="774.6" font-size="11.3" fill="#262626" stroke="#262626" stroke-width="0.1" textLength="64.53" lengthAdjust="spacingAndGlyphs"><tspan font-family="Liberation Serif" font-size="1.250em">α</tspan><tspan>H3K4me3</tspan></text>
<text transform="translate(46.10,0) rotate(-90)" x="-841.25" y="0" font-size="16" fill="#262626" stroke="#262626" stroke-width="0.1" textLength="43.34" lengthAdjust="spacingAndGlyphs"><tspan>% input</tspan></text>
<rect x="370.40" y="755.00" width="6.70" height="7.10" fill="#ab002c" />
<text x="382.14" y="761.9" font-size="12.3" fill="#262626" stroke="#262626" stroke-width="0.1" textLength="107.33" lengthAdjust="spacingAndGlyphs"><tspan>Ring1A-/-Ring1Bf/f</tspan></text>
<rect x="370.40" y="772.40" width="6.70" height="7.10" fill="#68a843" />
<text x="382.16" y="779.1999999999999" font-size="12.3" fill="#262626" stroke="#262626" stroke-width="0.1" textLength="114.51" lengthAdjust="spacingAndGlyphs"><tspan>Ring1A-/-Ring1B</tspan><tspan font-family="Liberation Serif">Δ</tspan><tspan>/</tspan><tspan font-family="Liberation Serif">Δ</tspan></text>
<rect x="98.85" y="1037.75" width="13.60" height="23.65" fill="#ab002c" stroke="#80001f" stroke-width="0.7"/>
<line x1="105.65" y1="1036.25" x2="105.65" y2="1037.40" stroke="#000" stroke-width="1.6"/>
<line x1="103.35" y1="1036.65" x2="107.95" y2="1036.65" stroke="#000" stroke-width="1.9"/>
<rect x="113.15" y="1050.65" width="13.80" height="10.75" fill="#68a843" stroke="#4f8532" stroke-width="0.7"/>
<line x1="120.05" y1="1048.00" x2="120.05" y2="1050.30" stroke="#000" stroke-width="1.6"/>
<line x1="117.75" y1="1048.40" x2="122.35" y2="1048.40" stroke="#000" stroke-width="1.9"/>
<rect x="156.35" y="967.25" width="14.10" height="94.15" fill="#ab002c" stroke="#80001f" stroke-width="0.7"/>
<line x1="163.40" y1="963.70" x2="163.40" y2="966.90" stroke="#000" stroke-width="1.6"/>
<line x1="161.10" y1="964.10" x2="165.70" y2="964.10" stroke="#000" stroke-width="1.9"/>
<rect x="171.15" y="1039.55" width="13.70" height="21.85" fill="#68a843" stroke="#4f8532" stroke-width="0.7"/>
<line x1="178.00" y1="1037.60" x2="178.00" y2="1039.20" stroke="#000" stroke-width="1.6"/>
<line x1="175.70" y1="1038.00" x2="180.30" y2="1038.00" stroke="#000" stroke-width="1.9"/>
<rect x="214.15" y="974.05" width="14.10" height="87.35" fill="#ab002c" stroke="#80001f" stroke-width="0.7"/>
<line x1="221.20" y1="969.90" x2="221.20" y2="973.70" stroke="#000" stroke-width="1.6"/>
<line x1="218.90" y1="970.30" x2="223.50" y2="970.30" stroke="#000" stroke-width="1.9"/>
<rect x="228.95" y="1043.55" width="13.80" height="17.85" fill="#68a843" stroke="#4f8532" stroke-width="0.7"/>
<line x1="235.85" y1="1040.70" x2="235.85" y2="1043.20" stroke="#000" stroke-width="1.6"/>
<line x1="233.55" y1="1041.10" x2="238.15" y2="1041.10" stroke="#000" stroke-width="1.9"/>
<rect x="272.05" y="1034.35" width="14.10" height="27.05" fill="#ab002c" stroke="#80001f" stroke-width="0.7"/>
<line x1="279.10" y1="1033.50" x2="279.10" y2="1034.00" stroke="#000" stroke-width="1.6"/>
<line x1="276.80" y1="1033.90" x2="281.40" y2="1033.90" stroke="#000" stroke-width="1.9"/>
<rect x="286.85" y="1051.25" width="13.80" height="10.15" fill="#68a843" stroke="#4f8532" stroke-width="0.7"/>
<line x1="293.75" y1="1049.50" x2="293.75" y2="1050.90" stroke="#000" stroke-width="1.6"/>
<line x1="291.45" y1="1049.90" x2="296.05" y2="1049.90" stroke="#000" stroke-width="1.9"/>
<rect x="329.85" y="1059.95" width="13.80" height="1.45" fill="#ab002c" stroke="#80001f" stroke-width="0.7"/>
<line x1="336.75" y1="1059.00" x2="336.75" y2="1059.60" stroke="#000" stroke-width="1.6"/>
<line x1="334.45" y1="1059.40" x2="339.05" y2="1059.40" stroke="#000" stroke-width="1.9"/>
<rect x="344.35" y="1060.65" width="13.80" height="0.75" fill="#68a843" stroke="#4f8532" stroke-width="0.7"/>
<rect x="387.35" y="1060.65" width="13.80" height="0.75" fill="#ab002c" stroke="#80001f" stroke-width="0.7"/>
<line x1="391.95" y1="1059.90" x2="396.55" y2="1059.90" stroke="#000" stroke-width="1.2"/>
<rect x="401.85" y="1060.15" width="13.80" height="1.25" fill="#68a843" stroke="#4f8532" stroke-width="0.7"/>
<line x1="406.45" y1="1059.40" x2="411.05" y2="1059.40" stroke="#000" stroke-width="1.2"/>
<rect x="445.55" y="1004.75" width="13.70" height="56.65" fill="#ab002c" stroke="#80001f" stroke-width="0.7"/>
<line x1="452.40" y1="1000.10" x2="452.40" y2="1004.40" stroke="#000" stroke-width="1.6"/>
<line x1="450.10" y1="1000.50" x2="454.70" y2="1000.50" stroke="#000" stroke-width="1.9"/>
<rect x="459.95" y="1032.05" width="13.70" height="29.35" fill="#68a843" stroke="#4f8532" stroke-width="0.7"/>
<line x1="466.80" y1="1031.30" x2="466.80" y2="1031.70" stroke="#000" stroke-width="1.6"/>
<line x1="464.50" y1="1031.70" x2="469.10" y2="1031.70" stroke="#000" stroke-width="1.9"/>
<line x1="84.10" y1="933.00" x2="84.10" y2="1066.70" stroke="#000" stroke-width="2.0"/>
<line x1="83.10" y1="1061.40" x2="494.20" y2="1061.40" stroke="#000" stroke-width="2.1"/>
<line x1="78.50" y1="937.50" x2="84.10" y2="937.50" stroke="#000" stroke-width="2"/>
<line x1="78.50" y1="962.50" x2="84.10" y2="962.50" stroke="#000" stroke-width="2"/>
<line x1="78.50" y1="987.00" x2="84.10" y2="987.00" stroke="#000" stroke-width="2"/>
<line x1="78.50" y1="1012.00" x2="84.10" y2="1012.00" stroke="#000" stroke-width="2"/>
<line x1="78.50" y1="1037.00" x2="84.10" y2="1037.00" stroke="#000" stroke-width="2"/>
<line x1="78.50" y1="1061.40" x2="84.10" y2="1061.40" stroke="#000" stroke-width="2"/>
<line x1="141.20" y1="1061.40" x2="141.20" y2="1066.60" stroke="#000" stroke-width="2"/>
<line x1="199.00" y1="1061.40" x2="199.00" y2="1066.60" stroke="#000" stroke-width="2"/>
<line x1="257.40" y1="1061.40" x2="257.40" y2="1066.60" stroke="#000" stroke-width="2"/>
<line x1="315.30" y1="1061.40" x2="315.30" y2="1066.60" stroke="#000" stroke-width="2"/>
<line x1="372.70" y1="1061.40" x2="372.70" y2="1066.60" stroke="#000" stroke-width="2"/>
<line x1="431.00" y1="1061.40" x2="431.00" y2="1066.60" stroke="#000" stroke-width="2"/>
<line x1="488.80" y1="1061.40" x2="488.80" y2="1066.60" stroke="#000" stroke-width="2"/>
<text x="66.69" y="942.0" font-size="12.5" fill="#262626" stroke="#262626" stroke-width="0.1" textLength="7.72" lengthAdjust="spacingAndGlyphs"><tspan>1</tspan></text>
<text x="54.96" y="967.0" font-size="12.5" fill="#262626" stroke="#262626" stroke-width="0.1" textLength="19.40" lengthAdjust="spacingAndGlyphs"><tspan>0.8</tspan></text>
<text x="54.96" y="991.5" font-size="12.5" fill="#262626" stroke="#262626" stroke-width="0.1" textLength="19.40" lengthAdjust="spacingAndGlyphs"><tspan>0.6</tspan></text>
<text x="54.96" y="1016.5" font-size="12.5" fill="#262626" stroke="#262626" stroke-width="0.1" textLength="19.19" lengthAdjust="spacingAndGlyphs"><tspan>0.4</tspan></text>
<text x="54.95" y="1041.5" font-size="12.5" fill="#262626" stroke="#262626" stroke-width="0.1" textLength="19.50" lengthAdjust="spacingAndGlyphs"><tspan>0.2</tspan></text>
<text x="66.40" y="1065.9" font-size="12.5" fill="#262626" stroke="#262626" stroke-width="0.1" textLength="7.90" lengthAdjust="spacingAndGlyphs"><tspan>0</tspan></text>
<text x="105.75" y="1082.5" font-size="12.3" fill="#262626" stroke="#262626" stroke-width="0.1" textLength="14.06" lengthAdjust="spacingAndGlyphs"><tspan>#1</tspan></text>
<text x="163.25" y="1082.5" font-size="12.3" fill="#262626" stroke="#262626" stroke-width="0.1" textLength="15.03" lengthAdjust="spacingAndGlyphs"><tspan>#2</tspan></text>
<text x="220.94" y="1082.5" font-size="12.3" fill="#262626" stroke="#262626" stroke-width="0.1" textLength="15.46" lengthAdjust="spacingAndGlyphs"><tspan>#3</tspan></text>
<text x="279.05" y="1082.5" font-size="12.3" fill="#262626" stroke="#262626" stroke-width="0.1" textLength="14.95" lengthAdjust="spacingAndGlyphs"><tspan>#4</tspan></text>
<text x="337.25" y="1082.5" font-size="12.3" fill="#262626" stroke="#262626" stroke-width="0.1" textLength="15.12" lengthAdjust="spacingAndGlyphs"><tspan>#5</tspan></text>
<text x="386.32" y="1082.5" font-size="12.3" fill="#262626" stroke="#262626" stroke-width="0.1" textLength="31.17" lengthAdjust="spacingAndGlyphs"><tspan>Myf5</tspan></text>
<text x="431.22" y="1082.5" font-size="12.3" fill="#262626" stroke="#262626" stroke-width="0.1" textLength="56.66" lengthAdjust="spacingAndGlyphs"><tspan>Ink4a-Arf</tspan></text>
<text x="97.12" y="954.6" font-size="11.3" fill="#262626" stroke="#262626" stroke-width="0.1" textLength="70.32" lengthAdjust="spacingAndGlyphs"><tspan font-family="Liberation Serif" font-size="1.250em">α</tspan><tspan>H3K27me3</tspan></text>
<text transform="translate(45.80,0) rotate(-90)" x="-1018.65" y="0" font-size="16" fill="#262626" stroke="#262626" stroke-width="0.1" textLength="43.24" lengthAdjust="spacingAndGlyphs"><tspan>% input</tspan></text>
<rect x="368.50" y="935.80" width="6.60" height="6.90" fill="#ab002c" />
<text x="379.76" y="942.7" font-size="12.3" fill="#262626" stroke="#262626" stroke-width="0.1" textLength="106.02" lengthAdjust="spacingAndGlyphs"><tspan>Ring1A-/-Ring1Bf/f</tspan></text>
<rect x="368.50" y="952.70" width="6.60" height="6.90" fill="#68a843" />
<text x="379.76" y="959.6" font-size="12.3" fill="#262626" stroke="#262626" stroke-width="0.1" textLength="114.51" lengthAdjust="spacingAndGlyphs"><tspan>Ring1A-/-Ring1B</tspan><tspan font-family="Liberation Serif">Δ</tspan><tspan>/</tspan><tspan font-family="Liberation Serif">Δ</tspan></text>
</svg></body></html>
